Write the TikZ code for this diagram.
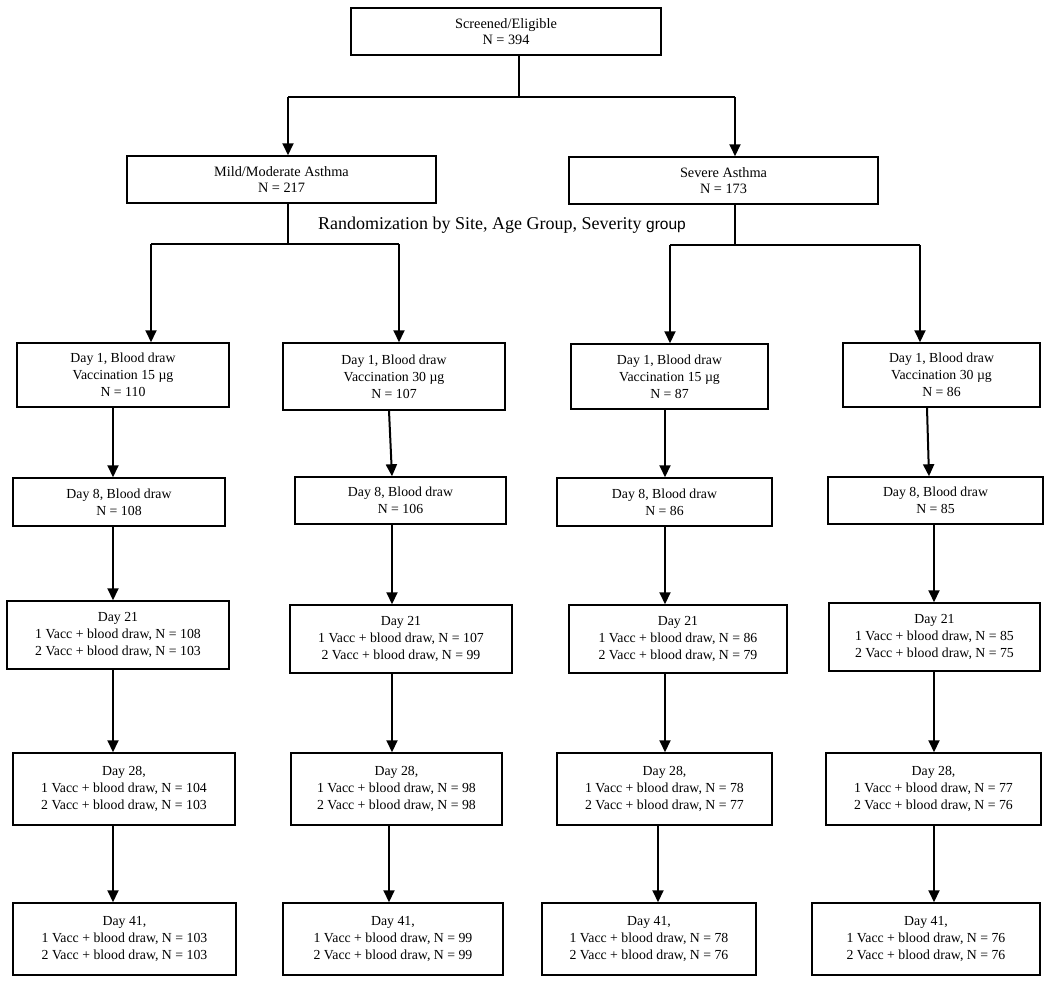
\documentclass[tikz,border=0pt]{standalone}
\usepackage{fontspec}
\setmainfont{Liberation Serif}
\newfontfamily\grpfont{Liberation Sans}
\usetikzlibrary{arrows.meta}
\tikzset{
  box/.style={draw=black, line width=1.5pt, rectangle, inner sep=0pt, align=center,
    font=\fontsize{13.8}{16.8}\selectfont},
  topbox/.style={box, font=\fontsize{14.3}{16.7}\selectfont},
  arr/.style={draw=black, line width=2pt, -{Triangle[length=12pt,width=11pt]}},
  ln/.style={draw=black, line width=1.3pt},
}
\begin{document}
\begin{tikzpicture}[x=1pt,y=-1pt]
\useasboundingbox[fill=white] (0,0) rectangle (1050,982);
% top levels
\node[topbox, minimum width=310pt, minimum height=47pt] (top) at (506,31.5) {Screened/Eligible\\N = 394};
\node[topbox, minimum width=309pt, minimum height=47pt] (mild) at (281.5,179.5) {Mild/Moderate Asthma\\N = 217};
\node[topbox, minimum width=309pt, minimum height=47pt] (sev) at (723.5,180.5) {Severe Asthma\\N = 173};
\node[anchor=base west, inner sep=0pt, font=\fontsize{18}{20}\selectfont] (rand) at (318,229)
  {Randomization by Site, Age Group, Severity {\grpfont\fontsize{15.5}{18}\selectfont group}};
% day 1
\node[box, minimum width=212pt, minimum height=64pt] (A1) at (123,375) {Day 1, Blood draw\\Vaccination 15 µg\\N = 110};
\node[box, minimum width=222pt, minimum height=67pt] (A2) at (394,376.5) {Day 1, Blood draw\\Vaccination 30 µg\\N = 107};
\node[box, minimum width=197pt, minimum height=65pt] (A3) at (669.5,376.5) {Day 1, Blood draw\\Vaccination 15 µg\\N = 87};
\node[box, minimum width=197pt, minimum height=64pt] (A4) at (941.5,375) {Day 1, Blood draw\\Vaccination 30 µg\\N = 86};
% day 8
\node[box, minimum width=212pt, minimum height=48pt] (B1) at (119,502) {Day 8, Blood draw\\N = 108};
\node[box, minimum width=211pt, minimum height=47pt] (B2) at (400.5,500.5) {Day 8, Blood draw\\N = 106};
\node[box, minimum width=215pt, minimum height=48pt] (B3) at (664.5,502) {Day 8, Blood draw\\N = 86};
\node[box, minimum width=215pt, minimum height=47pt] (B4) at (935.5,500.5) {Day 8, Blood draw\\N = 85};
% day 21
\node[box, minimum width=222pt, minimum height=68pt] (C1) at (118,635) {Day 21\\1 Vacc + blood draw, N = 108\\2 Vacc + blood draw, N = 103};
\node[box, minimum width=222pt, minimum height=68pt] (C2) at (401,639) {Day 21\\1 Vacc + blood draw, N = 107\\2 Vacc + blood draw, N = 99};
\node[box, minimum width=218pt, minimum height=68pt] (C3) at (678,639) {Day 21\\1 Vacc + blood draw, N = 86\\2 Vacc + blood draw, N = 79};
\node[box, minimum width=211pt, minimum height=68pt] (C4) at (934.5,637) {Day 21\\1 Vacc + blood draw, N = 85\\2 Vacc + blood draw, N = 75};
% day 28
\node[box, minimum width=222pt, minimum height=72pt] (D1) at (124,789) {Day 28,\\1 Vacc + blood draw, N = 104\\2 Vacc + blood draw, N = 103};
\node[box, minimum width=211pt, minimum height=72pt] (D2) at (396.5,789) {Day 28,\\1 Vacc + blood draw, N = 98\\2 Vacc + blood draw, N = 98};
\node[box, minimum width=215pt, minimum height=72pt] (D3) at (664.5,789) {Day 28,\\1 Vacc + blood draw, N = 78\\2 Vacc + blood draw, N = 77};
\node[box, minimum width=215pt, minimum height=72pt] (D4) at (933.5,789) {Day 28,\\1 Vacc + blood draw, N = 77\\2 Vacc + blood draw, N = 76};
% day 41
\node[box, minimum width=223pt, minimum height=72pt] (E1) at (124.5,939) {Day 41,\\1 Vacc + blood draw, N = 103\\2 Vacc + blood draw, N = 103};
\node[box, minimum width=220pt, minimum height=72pt] (E2) at (393,939) {Day 41,\\1 Vacc + blood draw, N = 99\\2 Vacc + blood draw, N = 99};
\node[box, minimum width=214pt, minimum height=72pt] (E3) at (649,939) {Day 41,\\1 Vacc + blood draw, N = 78\\2 Vacc + blood draw, N = 76};
\node[box, minimum width=228pt, minimum height=72pt] (E4) at (926,939) {Day 41,\\1 Vacc + blood draw, N = 76\\2 Vacc + blood draw, N = 76};
% junctions
\coordinate (j0) at (519,97);
\coordinate (j0l) at (288,97);
\coordinate (j0r) at (735,97);
\coordinate (j1) at (288,244);
\coordinate (j1l) at (151,244);
\coordinate (j1r) at (399,244);
\coordinate (j2) at (735,245);
\coordinate (j2l) at (670,245);
\coordinate (j2r) at (920,245);
% connectors top
\draw[ln] (top.south -| j0) -- (j0);
\draw[ln] (j0l) -- (j0r);
\draw[arr] (j0l) -- (mild.north -| j0l);
\draw[arr] (j0r) -- (sev.north -| j0r);
\draw[ln] (mild.south -| j1) -- (j1);
\draw[ln] (j1l) -- (j1r);
\draw[arr] (j1l) -- (A1.north -| j1l);
\draw[arr] (j1r) -- (A2.north -| j1r);
\draw[ln] (sev.south -| j2) -- (j2);
\draw[ln] (j2l) -- (j2r);
\draw[arr] (j2l) -- (A3.north -| j2l);
\draw[arr] (j2r) -- (A4.north -| j2r);
% columns
\draw[arr] (A1.south -| 113,0) -- (B1.north -| 113,0);
\draw[arr] (A2.south -| 389,0) -- (B2.north -| 392,0);
\draw[arr] (A3.south -| 665,0) -- (B3.north -| 665,0);
\draw[arr] (A4.south -| 927,0) -- (B4.north -| 929,0);
\draw[arr] (B1.south -| 113,0) -- (C1.north -| 113,0);
\draw[arr] (B2.south -| 392,0) -- (C2.north -| 392,0);
\draw[arr] (B3.south -| 665,0) -- (C3.north -| 665,0);
\draw[arr] (B4.south -| 934,0) -- (C4.north -| 934,0);
\draw[arr] (C1.south -| 113,0) -- (D1.north -| 113,0);
\draw[arr] (C2.south -| 392,0) -- (D2.north -| 392,0);
\draw[arr] (C3.south -| 665,0) -- (D3.north -| 665,0);
\draw[arr] (C4.south -| 934,0) -- (D4.north -| 934,0);
\draw[arr] (D1.south -| 113,0) -- (E1.north -| 113,0);
\draw[arr] (D2.south -| 389,0) -- (E2.north -| 389,0);
\draw[arr] (D3.south -| 658,0) -- (E3.north -| 658,0);
\draw[arr] (D4.south -| 934,0) -- (E4.north -| 934,0);
\end{tikzpicture}
\end{document}
